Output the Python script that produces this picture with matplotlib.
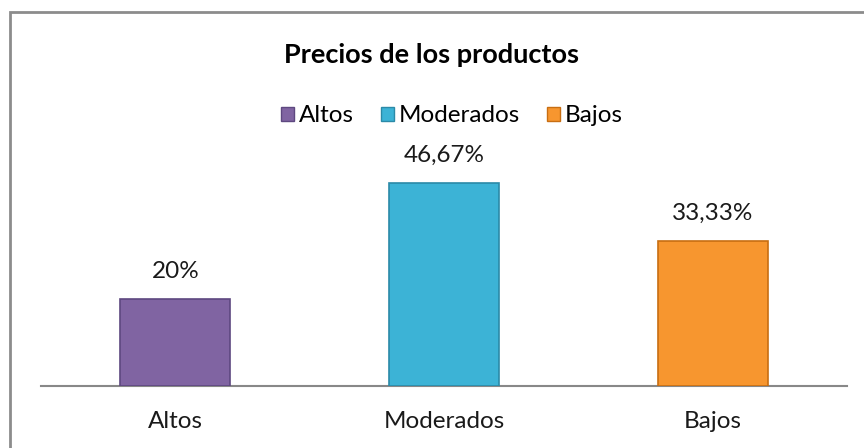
import matplotlib
matplotlib.use("Agg")
import matplotlib.pyplot as plt
from matplotlib.patches import Rectangle

categories = ["Altos", "Moderados", "Bajos"]
values = [20.0, 46.67, 33.33]
value_labels = ["20%", "46,67%", "33,33%"]
colors = ["#8064A2", "#3CB3D6", "#F7962F"]
edge_colors = ["#5E4880", "#2B8AA8", "#C86E12"]
title = "Precios de los productos"

plt.rcParams["font.family"] = ["Lato", "DejaVu Sans"]

W, H = 864, 448
fig = plt.figure(figsize=(W / 100, H / 100), dpi=100)

# outer chart frame (only top/left visible in the crop)
fig.patches.append(Rectangle((10 / W, -0.1), 1.1, (H - 12) / H + 0.1,
                             transform=fig.transFigure, fill=False,
                             edgecolor="#8C8C8C", linewidth=2.0))

# plot area: x from 41 to 847 px, baseline at y=386, top at y=150
ax = fig.add_axes([41 / W, (H - 386) / H, (847 - 41) / W, (386 - 150) / H])
x = list(range(len(categories)))
ax.bar(x, values, width=0.41, color=colors, edgecolor=edge_colors,
       linewidth=1.2, zorder=3)
ax.set_xlim(-0.5, len(categories) - 0.5)
ax.set_ylim(0, 54.25)

for xi, v, lab in zip(x, values, value_labels):
    ax.annotate(lab, (xi, v), xytext=(0, 12), textcoords="offset points",
                ha="center", va="bottom", fontsize=17.5, color="#1a1a1a")

for side in ["left", "right", "top"]:
    ax.spines[side].set_visible(False)
ax.spines["bottom"].set_color("#888888")
ax.spines["bottom"].set_linewidth(1.5)
ax.set_yticks([])
ax.set_xticks(x)
ax.set_xticklabels(categories, fontsize=17.5, color="#1a1a1a")
ax.tick_params(axis="x", length=0, pad=18)
ax.patch.set_alpha(0)

fig.text(0.5, (H - 55) / H, title, ha="center", va="center",
         fontsize=19.5, fontweight="bold", color="#000000")

handles = [Rectangle((0, 0), 1, 1, facecolor=c, edgecolor=e, linewidth=1)
           for c, e in zip(colors, edge_colors)]
fig.legend(handles, categories, loc="center", bbox_to_anchor=(452 / W, (H - 116) / H),
           ncol=3, frameon=False, fontsize=17.5, handlelength=0.55, handleheight=0.55,
           handletextpad=0.2, columnspacing=1.1)

fig.savefig("out.png", dpi=100)
